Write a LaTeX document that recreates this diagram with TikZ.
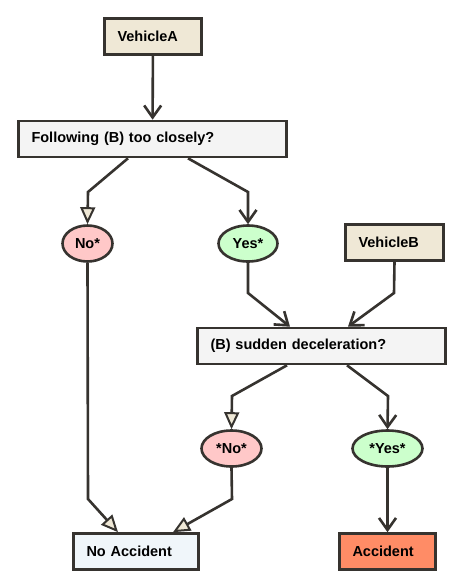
\documentclass[tikz,border=0pt]{standalone}
\usepackage{fontspec}
\setmainfont{Liberation Sans}
\usetikzlibrary{shapes.geometric,arrows.meta}

\definecolor{lineC}{HTML}{36332F}
\definecolor{vehC}{HTML}{EFE8D6}
\definecolor{askC}{HTML}{F4F4F4}
\definecolor{noC}{HTML}{FFC8C8}
\definecolor{yesC}{HTML}{CCFFCC}
\definecolor{safeC}{HTML}{F0F6FA}
\definecolor{crashC}{HTML}{FF8C66}

\begin{document}
\begin{tikzpicture}[x=1pt,y=-1pt,
  box/.style={draw=lineC,line width=2.6pt,rectangle,minimum height=36pt,inner xsep=13pt,align=left,font=\fontsize{14.5}{17}\selectfont\bfseries},
  oval/.style={draw=lineC,line width=2.6pt,ellipse,minimum height=36pt,inner sep=0pt,font=\fontsize{14.5}{17}\selectfont\bfseries},
  yesarrow/.style={draw=lineC,line width=2.6pt,-{Straight Barb[length=12pt,width=17pt,line width=2.6pt]}},
  noarrow/.style={draw=lineC,line width=2.6pt,-{Triangle[open,length=17pt,width=15pt,fill=vehC,line width=2pt]}}]
\useasboundingbox (0,0) rectangle (464,587);

% Draw the boxes
\node[box,fill=vehC,text width=71pt] (vehA) at (153,36.5) {VehicleA};
\node[box,fill=askC,text width=242pt] (q1) at (152.5,139) {Following (B) too closely?};
\node[box,fill=vehC,text width=72pt] (vehB) at (394.5,242.5) {VehicleB};
\node[box,fill=askC,text width=222pt] (q2) at (321.5,346) {(B) sudden deceleration?};
\node[box,fill=safeC,text width=99pt] (noAcc) at (136,551.5) {No Accident};
\node[box,fill=crashC,text width=70pt] (acc) at (387.5,551.5) {Accident};

% Draw the answers
\node[oval,fill=noC,minimum width=50pt] (no1) at (87.5,243.5) {No*};
\node[oval,fill=yesC,minimum width=59pt] (yes1) at (248,243.5) {Yes*};
\node[oval,fill=noC,minimum width=60pt] (no2) at (231.5,448.5) {*No*};
\node[oval,fill=yesC,minimum width=70pt] (yes2) at (387.5,448.5) {*Yes*};

% Bends
\coordinate (kNo1) at (88,192);
\coordinate (kYes1) at (248,192);
\coordinate (kYesB) at (248,293);
\coordinate (kVehB) at (394,293);
\coordinate (kNo2) at (232,396);
\coordinate (kYes2) at (388,396);
\coordinate (kNoL) at (88,499);
\coordinate (kNoR) at (232,499);

% Connectors
\draw[yesarrow] (vehA) -- (q1);
\draw[noarrow] ([xshift=-24.5pt]q1.south) -- (kNo1) -- (no1.north);
\draw[yesarrow] ([xshift=35.5pt]q1.south) -- (kYes1) -- (yes1.north);
\draw[yesarrow] (yes1.south) -- (kYesB) -- ([xshift=-31.5pt]q2.north);
\draw[yesarrow] (vehB.south) -- (kVehB) -- ([xshift=26.5pt]q2.north);
\draw[noarrow] ([xshift=-34.5pt]q2.south) -- (kNo2) -- (no2.north);
\draw[yesarrow] ([xshift=25.5pt]q2.south) -- (kYes2) -- (yes2.north);
\draw[noarrow] (no1.south) -- (kNoL) -- ([xshift=-18pt]noAcc.north);
\draw[noarrow] (no2.south) -- (kNoR) -- ([xshift=37pt]noAcc.north);
\draw[yesarrow] (yes2) -- (acc);
\end{tikzpicture}
\end{document}
